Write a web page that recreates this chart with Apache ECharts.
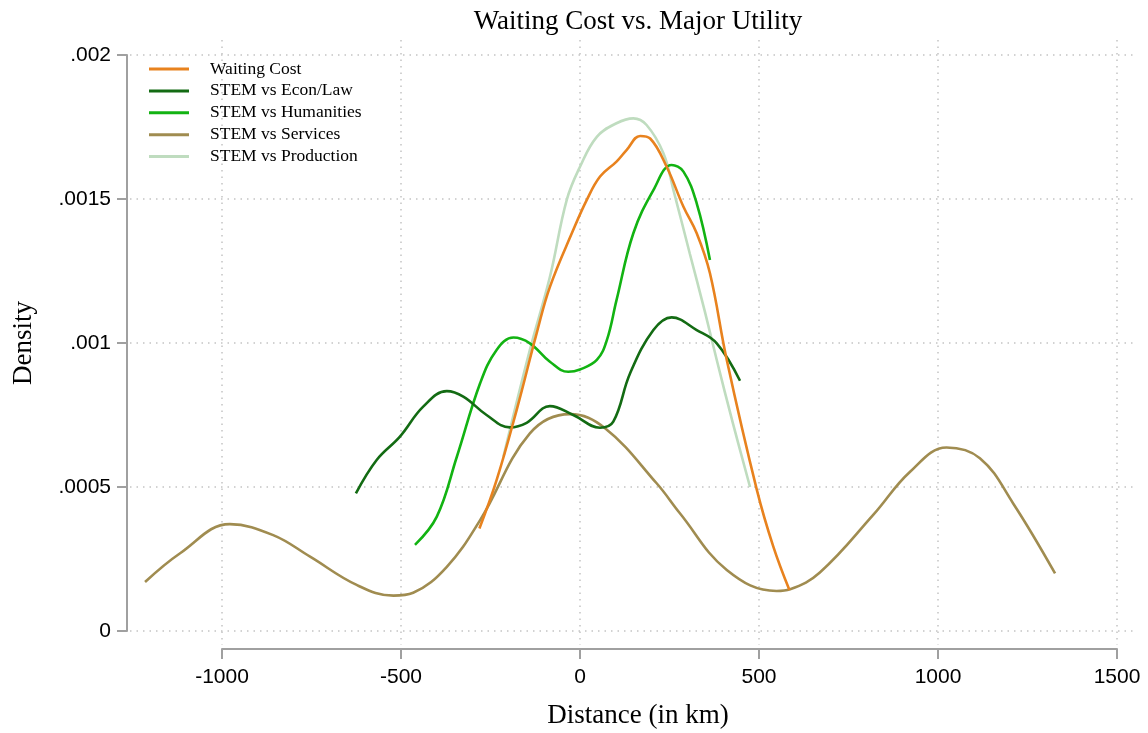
<!DOCTYPE html>
<html>
<head>
<meta charset="utf-8">
<script src="https://cdn.jsdelivr.net/npm/echarts@6/dist/echarts.min.js"></script>
<style>
  html, body { margin: 0; padding: 0; background: #fff; }
  #chart { width: 1148px; height: 733px; }
</style>
</head>
<body>
<div id="chart"></div>
<script>
// kernel density curves, [distance in km, density]
const waitingCost = [
  [-281, 0.000356], [-233, 0.000524], [-177, 0.000767], [-121, 0.001034], [-84, 0.001195],
  [-19, 0.001392], [19, 0.001497], [56, 0.001578], [102, 0.001630], [130, 0.001670],
  [168, 0.001719], [196, 0.001710], [242, 0.001612], [289, 0.001473], [326, 0.001381],
  [363, 0.001242], [410, 0.000941], [494, 0.000490], [540, 0.000293], [585, 0.000142]
];
const econLaw = [
  [-626, 0.000478], [-568, 0.000594], [-503, 0.000675], [-438, 0.000779], [-372, 0.000833],
  [-326, 0.000814], [-261, 0.000750], [-196, 0.000707], [-149, 0.000723], [-84, 0.000781],
  [-19, 0.000750], [56, 0.000706], [93, 0.000727], [140, 0.000895], [205, 0.001045],
  [256, 0.001089], [326, 0.001045], [382, 0.000999], [447, 0.000869]
];
const humanities = [
  [-461, 0.000299], [-400, 0.000397], [-344, 0.000605], [-279, 0.000860], [-233, 0.000976],
  [-186, 0.001019], [-140, 0.000999], [-84, 0.000935], [-33, 0.000900], [0, 0.000908],
  [47, 0.000941], [75, 0.001010], [102, 0.001149], [149, 0.001381], [205, 0.001531],
  [256, 0.001618], [289, 0.001595], [326, 0.001485], [363, 0.001288]
];
const services = [
  [-1215, 0.000170], [-1117, 0.000270], [-978, 0.000371], [-857, 0.000333], [-754, 0.000258],
  [-624, 0.000160], [-521, 0.000123], [-466, 0.000133], [-372, 0.000223], [-279, 0.000385],
  [-140, 0.000686], [-28, 0.000753], [70, 0.000704], [214, 0.000513], [279, 0.000409],
  [410, 0.000212], [549, 0.000139], [587, 0.000145], [670, 0.000203], [819, 0.000403],
  [922, 0.000553], [1024, 0.000637], [1117, 0.000600], [1210, 0.000443], [1327, 0.000200]
];
const production = [
  [-214, 0.000605], [-140, 0.000976], [-84, 0.001230], [-37, 0.001497], [0, 0.001612],
  [47, 0.001716], [102, 0.001763], [149, 0.001780], [186, 0.001757], [233, 0.001659],
  [261, 0.001531], [307, 0.001309], [349, 0.001108], [382, 0.000941], [427, 0.000722],
  [475, 0.000500]
];

const seriesNames = ['Waiting Cost', 'STEM vs Econ/Law', 'STEM vs Humanities', 'STEM vs Services', 'STEM vs Production'];
const seriesData = [waitingCost, econLaw, humanities, services, production];
const seriesColors = ['#e8821e', '#136b13', '#12b312', '#a08c50', '#bfdcbf'];

const xTicks = [-1000, -500, 0, 500, 1000, 1500];
const xTickLabels = ['-1000', '-500', '0', '500', '1000', '1500'];
const yTicks = [0, 0.0005, 0.001, 0.0015, 0.002];
const yTickLabels = ['0', '.0005', '.001', '.0015', '.002'];

const serif = '"Liberation Serif", "DejaVu Serif", serif';
const sans = '"Liberation Sans", Arial, sans-serif';
const gridColor = '#c4c4c4';
const axisColor = '#a0a0a0';

const tickLabel = (ticks, labels) => (v) => labels[ticks.findIndex(t => Math.abs(t - v) < 1e-9)] ?? '';

const chart = echarts.init(document.getElementById('chart'));

const option = {
  animation: false,
  backgroundColor: '#fff',
  title: [
    {
      text: 'Waiting Cost vs. Major Utility',
      left: 633, top: 3, textAlign: 'center',
      textStyle: { fontFamily: serif, fontSize: 27, fontWeight: 'normal', color: '#000' }
    },
    {
      text: 'Distance (in km)',
      left: 633, top: 697, textAlign: 'center',
      textStyle: { fontFamily: serif, fontSize: 27, fontWeight: 'normal', color: '#000' }
    }
  ],
  legend: {
    orient: 'vertical',
    left: 144, top: 55,
    itemWidth: 40, itemHeight: 3, itemGap: 3.9,
    icon: 'rect',
    data: seriesNames,
    textStyle: { fontFamily: serif, fontSize: 17.5, color: '#000', lineHeight: 17, padding: [0, 0, 0, 16] }
  },
  grid: [
    // data area
    { left: 130, right: 14, top: 40, bottom: 88 },
    // x axis (spans -1000..1500 only)
    { left: 222, right: 31, top: 40, bottom: 88 },
    // y axis (spans 0...002 only)
    { left: 130, right: 14, top: 55, bottom: 102 }
  ],
  xAxis: [
    { gridIndex: 0, type: 'value', min: -1257, max: 1547.5, show: false },
    {
      gridIndex: 1, type: 'value', min: -1000, max: 1500, interval: 500, offset: 4,
      axisLine: { show: true, onZero: false, lineStyle: { color: axisColor, width: 2 } },
      axisTick: { show: true, length: 10, lineStyle: { color: axisColor, width: 2 } },
      axisLabel: { fontFamily: sans, fontSize: 21, color: '#000', margin: 18, formatter: tickLabel(xTicks, xTickLabels) },
      splitLine: { show: true, lineStyle: { color: gridColor, width: 1.5, type: [1.5, 5] } }
    },
    { gridIndex: 2, type: 'value', min: -1000, max: 1500, show: false }
  ],
  yAxis: [
    { gridIndex: 0, type: 'value', min: -0.0000486, max: 0.0020521, show: false },
    { gridIndex: 1, type: 'value', min: 0, max: 0.002, show: false },
    {
      gridIndex: 2, type: 'value', min: 0, max: 0.002, interval: 0.0005, offset: 3,
      name: 'Density', nameLocation: 'middle', nameRotate: 90, nameGap: 90,
      nameTextStyle: { fontFamily: serif, fontSize: 27, color: '#000' },
      axisLine: { show: true, onZero: false, lineStyle: { color: axisColor, width: 2 } },
      axisTick: { show: true, length: 10, lineStyle: { color: axisColor, width: 2 } },
      axisLabel: { fontFamily: sans, fontSize: 21, color: '#000', margin: 16, formatter: tickLabel(yTicks, yTickLabels) },
      splitLine: { show: true, lineStyle: { color: gridColor, width: 1.5, type: [1.5, 5] } }
    }
  ],
  series: seriesNames.map((name, i) => ({
    name: name,
    type: 'line',
    xAxisIndex: 0,
    yAxisIndex: 0,
    smooth: 0.4,
    showSymbol: false,
    color: seriesColors[i],
    lineStyle: { color: seriesColors[i], width: 2.6 },
    z: 10 - i,
    data: seriesData[i]
  }))
};

chart.setOption(option);
window.addEventListener('resize', () => chart.resize());
</script>
</body>
</html>
